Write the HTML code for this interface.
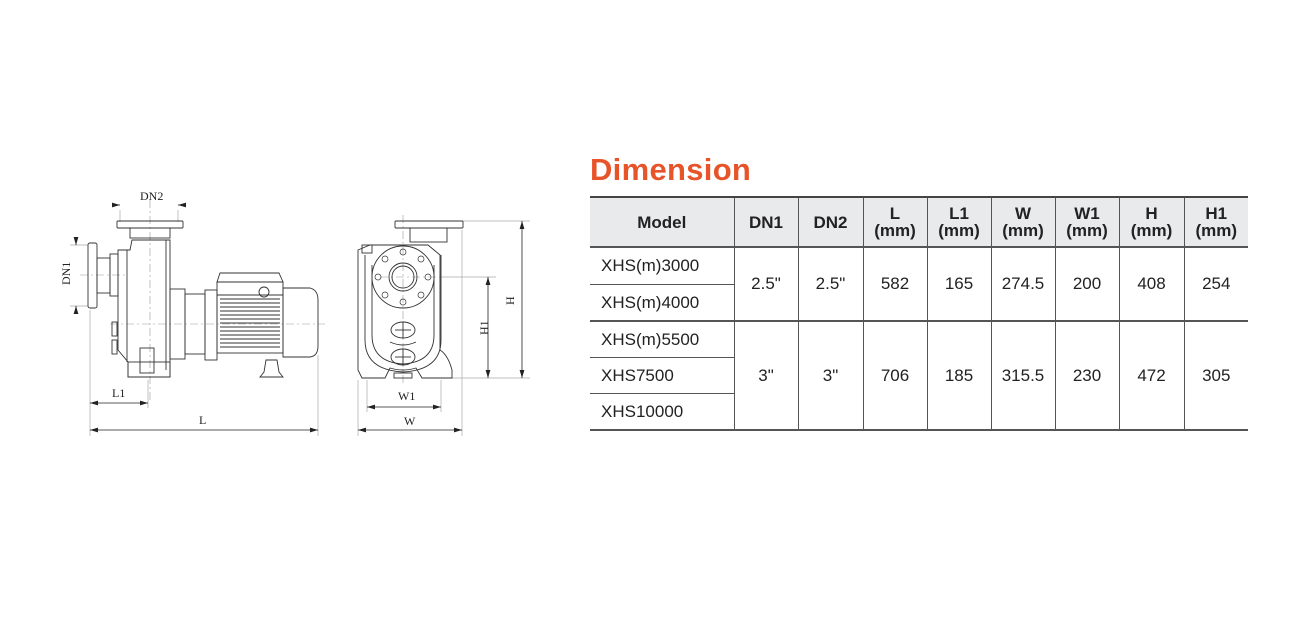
<!DOCTYPE html>
<html><head><meta charset="utf-8"><style>
html,body{margin:0;padding:0;background:#fff;}
body{width:1306px;height:641px;position:relative;overflow:hidden;font-family:"Liberation Sans",sans-serif;}
.t{position:absolute;left:590px;top:152px;font-size:31px;font-weight:bold;color:#e8542a;letter-spacing:0.3px;}
table{position:absolute;left:590px;top:196px;border-collapse:collapse;width:658px;font-size:17px;color:#222;}
th,td{text-align:center;border-left:1.5px solid #555;padding:0;}
th:first-child,td.m{border-left:none;}
th{background:#e9eaec;height:48px;font-weight:bold;font-size:17px;line-height:17px;border-top:2.5px solid #444;border-bottom:2.5px solid #555;}
td{height:36px;}
td.m{text-align:left;padding-left:11px;border-bottom:1.5px solid #555;}
svg{position:absolute;left:0;top:0;}
</style></head><body>
<div class="t">Dimension</div>
<table>
<colgroup><col style="width:144px"><col style="width:64px"><col style="width:65px"><col style="width:64px"><col style="width:64px"><col style="width:64px"><col style="width:64px"><col style="width:65px"><col style="width:64px"></colgroup>
<tr><th>Model</th><th>DN1</th><th>DN2</th><th>L<br>(mm)</th><th>L1<br>(mm)</th><th>W<br>(mm)</th><th>W1<br>(mm)</th><th>H<br>(mm)</th><th>H1<br>(mm)</th></tr>
<tr><td class="m" style="height:36px">XHS(m)3000</td><td rowspan="2" style="border-bottom:2px solid #555">2.5"</td><td rowspan="2" style="border-bottom:2px solid #555">2.5"</td><td rowspan="2" style="border-bottom:2px solid #555">582</td><td rowspan="2" style="border-bottom:2px solid #555">165</td><td rowspan="2" style="border-bottom:2px solid #555">274.5</td><td rowspan="2" style="border-bottom:2px solid #555">200</td><td rowspan="2" style="border-bottom:2px solid #555">408</td><td rowspan="2" style="border-bottom:2px solid #555">254</td></tr>
<tr><td class="m" style="border-bottom:2px solid #555;height:35px">XHS(m)4000</td></tr>
<tr><td class="m" style="height:35px">XHS(m)5500</td><td rowspan="3" style="border-bottom:2px solid #555">3"</td><td rowspan="3" style="border-bottom:2px solid #555">3"</td><td rowspan="3" style="border-bottom:2px solid #555">706</td><td rowspan="3" style="border-bottom:2px solid #555">185</td><td rowspan="3" style="border-bottom:2px solid #555">315.5</td><td rowspan="3" style="border-bottom:2px solid #555">230</td><td rowspan="3" style="border-bottom:2px solid #555">472</td><td rowspan="3" style="border-bottom:2px solid #555">305</td></tr>
<tr><td class="m" style="height:35px">XHS7500</td></tr>
<tr><td class="m" style="border-bottom:2px solid #555;height:35px">XHS10000</td></tr>
</table>

<svg width="1306" height="641" viewBox="0 0 1306 641" fill="none" stroke="#333" stroke-width="1">
<defs><marker id="a" viewBox="0 0 10 6" refX="10" refY="3" markerWidth="10" markerHeight="6" orient="auto-start-reverse"><path d="M0,0L10,3L0,6z" fill="#222" stroke="none"/></marker></defs>
<g font-family="Liberation Serif,serif" font-size="12" fill="#222" stroke="none">
<text x="140" y="200">DN2</text>
<text x="112" y="397">L1</text>
<text x="199" y="424">L</text>
<text x="398" y="400">W1</text>
<text x="404" y="425">W</text>
<text transform="translate(70,285) rotate(-90)">DN1</text>
<text transform="translate(488,335) rotate(-90)">H1</text>
<text transform="translate(514,305) rotate(-90)">H</text>
</g>
<g stroke="#999" stroke-width="0.6" stroke-dasharray="8 3 2 3">
<line x1="150" y1="200" x2="150" y2="400"/><line x1="80" y1="275" x2="125" y2="275"/><line x1="110" y1="324" x2="325" y2="324"/>
<line x1="380" y1="277" x2="440" y2="277"/><line x1="403" y1="215" x2="403" y2="385"/>
</g>
<g stroke="#aaa" stroke-width="0.7">
<line x1="120" y1="210" x2="120" y2="222"/><line x1="178" y1="210" x2="178" y2="222"/>
<line x1="70" y1="245" x2="88" y2="245"/><line x1="70" y1="306" x2="88" y2="306"/>
<line x1="90" y1="310" x2="90" y2="436"/><line x1="318" y1="355" x2="318" y2="436"/><line x1="148" y1="380" x2="148" y2="408"/>
<line x1="463" y1="221" x2="530" y2="221"/><line x1="440" y1="277" x2="496" y2="277"/><line x1="440" y1="378" x2="530" y2="378"/>
<line x1="358" y1="380" x2="358" y2="436"/><line x1="462" y1="230" x2="462" y2="436"/><line x1="367" y1="380" x2="367" y2="412"/><line x1="441" y1="380" x2="441" y2="412"/>
</g>
<g stroke="#222" stroke-width="0.8">
<line x1="115" y1="205" x2="120" y2="205" marker-end="url(#a)"/><line x1="183" y1="205" x2="178" y2="205" marker-end="url(#a)"/>
<line x1="76" y1="240" x2="76" y2="245" marker-end="url(#a)"/><line x1="76" y1="312" x2="76" y2="306" marker-end="url(#a)"/>
<line x1="90" y1="403" x2="148" y2="403" marker-start="url(#a)" marker-end="url(#a)"/>
<line x1="90" y1="430" x2="318" y2="430" marker-start="url(#a)" marker-end="url(#a)"/>
<line x1="522" y1="221" x2="522" y2="378" marker-start="url(#a)" marker-end="url(#a)"/>
<line x1="488" y1="277" x2="488" y2="378" marker-start="url(#a)" marker-end="url(#a)"/>
<line x1="367" y1="407" x2="441" y2="407" marker-start="url(#a)" marker-end="url(#a)"/>
<line x1="358" y1="430" x2="462" y2="430" marker-start="url(#a)" marker-end="url(#a)"/>
</g>
<g stroke="#333" stroke-width="0.9">
<rect x="117" y="221" width="66" height="7" rx="1"/><rect x="130" y="228" width="40" height="10"/>
<path d="M118,250 L130,250 L132,240 L170,240 L170,377 L128,377 L128,362 L118,350 Z"/>
<line x1="127" y1="250" x2="127" y2="362"/><line x1="166" y1="240" x2="166" y2="370"/>
<rect x="88" y="243" width="9" height="65" rx="2"/><rect x="97" y="258" width="13" height="35"/><rect x="110" y="254" width="8" height="42"/>
<rect x="112" y="322" width="5" height="14"/><rect x="112" y="340" width="5" height="14"/>
<rect x="140" y="348" width="14" height="25"/><rect x="128" y="362" width="42" height="15"/>
<rect x="170" y="289" width="15" height="70"/><rect x="185" y="294" width="20" height="60"/><rect x="205" y="290" width="12" height="70"/>
<path d="M217,282 L220,273 L279,273 L283,282 Z"/><rect x="217" y="282" width="66" height="13"/>
<rect x="217" y="295" width="66" height="58"/>
<g stroke-width="1.1"><line x1="220" y1="299" x2="280" y2="299"/><line x1="220" y1="303" x2="280" y2="303"/><line x1="220" y1="307" x2="280" y2="307"/><line x1="220" y1="311" x2="280" y2="311"/><line x1="220" y1="315" x2="280" y2="315"/><line x1="220" y1="319" x2="280" y2="319"/><line x1="220" y1="323" x2="280" y2="323"/><line x1="220" y1="327" x2="280" y2="327"/><line x1="220" y1="331" x2="280" y2="331"/><line x1="220" y1="335" x2="280" y2="335"/><line x1="220" y1="339" x2="280" y2="339"/><line x1="220" y1="343" x2="280" y2="343"/><line x1="220" y1="347" x2="280" y2="347"/></g>
<circle cx="264" cy="292" r="5"/>
<path d="M283,288 L310,288 Q318,290 318,300 L318,346 Q318,356 310,357 L283,357 Z"/>
<path d="M266,360 L264,372 L260,377 L283,377 L279,372 L277,360 Z"/>
</g>
<g stroke="#333" stroke-width="0.9">
<rect x="395" y="221" width="68" height="7" rx="1"/><rect x="410" y="228" width="37" height="14"/>
<path d="M358,250 L358,370 L362,378 L385,378 L390,368 Q403,372 416,368 L422,378 L452,378 L452,370 Q448,355 440,350 L440,255 L428,245 L370,245 Z"/>
<path d="M365,255 L365,340 Q365,370 403,372 Q441,370 441,340 L441,255"/>
<path d="M372,265 L372,335 Q372,362 403,364 Q434,362 434,335 L434,265"/>
<circle cx="403" cy="277" r="31"/><circle cx="403" cy="277" r="14"/><circle cx="403" cy="277" r="11"/>
<g stroke-width="0.7"><circle cx="403" cy="252" r="3"/><circle cx="403" cy="302" r="3"/><circle cx="378" cy="277" r="3"/><circle cx="428" cy="277" r="3"/><circle cx="385" cy="259" r="3"/><circle cx="421" cy="259" r="3"/><circle cx="385" cy="295" r="3"/><circle cx="421" cy="295" r="3"/></g>
<ellipse cx="403" cy="330" rx="12" ry="8"/><ellipse cx="403" cy="357" rx="12" ry="8"/>
<line x1="395" y1="330" x2="411" y2="330"/><line x1="403" y1="322" x2="403" y2="338"/><line x1="395" y1="357" x2="411" y2="357"/><line x1="403" y1="349" x2="403" y2="365"/>
<path d="M390,342 Q403,348 416,342"/>
<rect x="362" y="245" width="10" height="8"/>
<rect x="394" y="373" width="18" height="5"/>
</g>
</svg>
</body></html>
